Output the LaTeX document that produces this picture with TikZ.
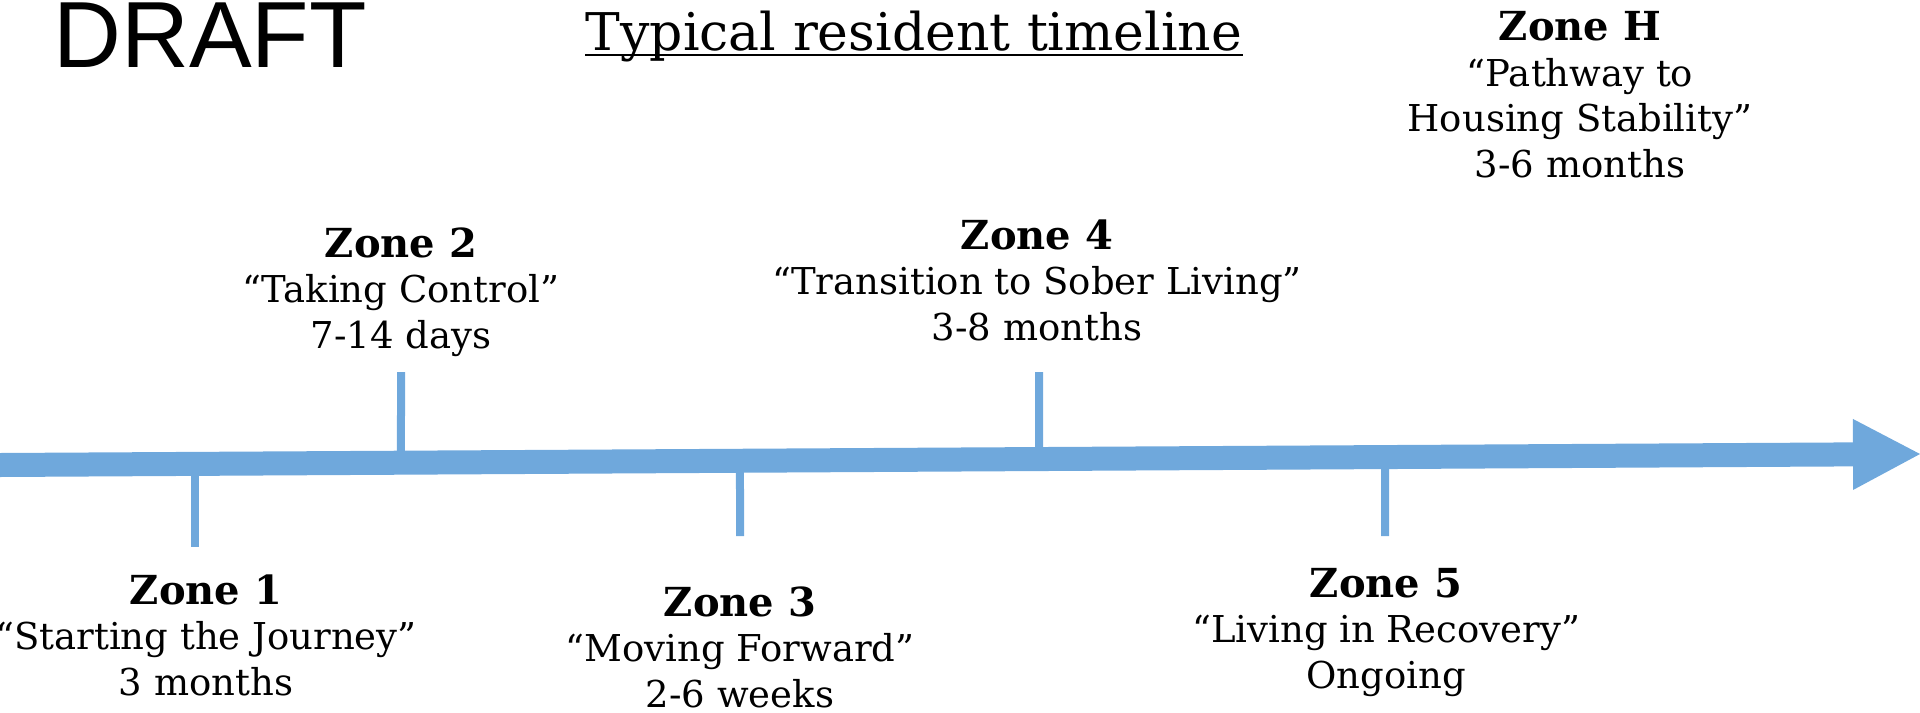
\documentclass[tikz,border=0pt]{standalone}
\usepackage{fontspec}
\setmainfont{DejaVu Serif}
\newfontfamily\draftfont{Liberation Sans}
\usetikzlibrary{arrows.meta,calc}
\definecolor{lineblue}{HTML}{6FA8DC}
\tikzset{
 zone/.style={align=center,anchor=base,inner sep=0pt,
  font=\fontsize{18.5}{22.75}\selectfont},
 tick/.style={draw=lineblue,line width=4pt},
 timeline/.style={draw=lineblue,line width=12pt,
  -{Triangle[length=33.5pt,width=35.5pt,line width=0pt]}}
}
\newcommand{\zonehead}[1]{{\fontsize{20}{22.75}\selectfont\bfseries #1}}

\begin{document}
\begin{tikzpicture}[x=0.5pt,y=-0.5pt]
\useasboundingbox (0,0) rectangle (1920,712);
\node (draft) [anchor=base west,inner sep=0pt,
 font=\draftfont\fontsize{47}{47}\selectfont] at (53,67) {DRAFT};
\node (title) [anchor=base,inner sep=0pt,
 font=\fontsize{26}{26}\selectfont] at (914,50) {Typical resident timeline};
\draw[line width=1pt] ([yshift=-2.5pt]title.base west)--([yshift=-2.5pt]title.base east);
\coordinate (tl start) at (0,465);
\coordinate (tl end) at (1920,454);
\foreach \i/\x/\y in {1/195/547,2/401/372,3/740/536,4/1039/372,5/1385/536}{
\coordinate (t\i) at ($(tl start)!\x/1920!(tl end)$);
\draw[tick] (t\i)--(\x,\y);
}
\draw[timeline] (tl start)--(tl end);
\node (z1) [zone] at (206,695) {\zonehead{Zone 1}\\“Starting the Journey”\\3 months};
\node (z2) [zone] at (401,348) {\zonehead{Zone 2}\\“Taking Control”\\7-14 days};
\node (z3) [zone] at (740,707) {\zonehead{Zone 3}\\“Moving Forward”\\2-6 weeks};
\node (z4) [zone] at (1037,340) {\zonehead{Zone 4}\\“Transition to Sober Living”\\3-8 months};
\node (z5) [zone] at (1386,688) {\zonehead{Zone 5}\\“Living in Recovery”\\Ongoing};
\node (zh) [zone] at (1580,177) {\zonehead{Zone H}\\“Pathway to\\Housing Stability”\\3-6 months};
\end{tikzpicture}
\end{document}
